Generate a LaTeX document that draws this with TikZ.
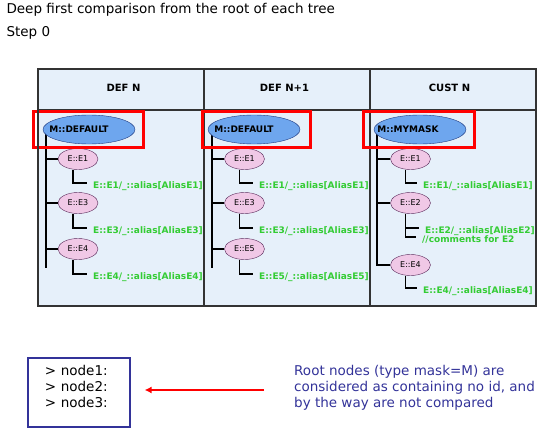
\documentclass[tikz,border=0pt]{standalone}
\usepackage{fontspec}
\setmainfont{DejaVu Sans}
\usetikzlibrary{shapes.geometric,arrows.meta}

\definecolor{panelfill}{HTML}{E6F0FA}
\definecolor{rootfill}{HTML}{6EA6EE}
\definecolor{rootborder}{HTML}{1F3A80}
\definecolor{leaffill}{HTML}{F0C8E6}
\definecolor{leafborder}{HTML}{5A2A5A}
\definecolor{aliasgreen}{HTML}{33CC33}
\definecolor{navyline}{HTML}{333399}
\definecolor{framegray}{HTML}{333333}

\begin{document}
\begin{tikzpicture}[x=1pt,y=-1pt,
    header/.style={anchor=base,font=\bfseries\fontsize{10}{12}\selectfont},
    rootnode/.style={ellipse,draw=rootborder,fill=rootfill,minimum width=92pt,minimum height=29pt,inner sep=0pt},
    leafnode/.style={ellipse,draw=leafborder,fill=leaffill,minimum width=40pt,minimum height=21pt,inner sep=0pt,font=\fontsize{8}{9}\selectfont},
    alias/.style={anchor=base west,inner xsep=6pt,inner ysep=0pt,text height=10pt,text depth=0pt,text=aliasgreen,font=\bfseries\fontsize{9}{9}\selectfont},
    redbox/.style={draw=red,line width=3pt},
    branch/.style={line width=1.5pt,black}]

  \useasboundingbox (0,0) rectangle (558,431);

  \node[anchor=base west,font=\fontsize{13.5}{16}\selectfont] (title) at (3,13.5) {Deep first comparison from the root of each tree};
  \node[anchor=base west,font=\fontsize{13.5}{16}\selectfont] (step) at (3,37) {Step 0};

  % panel
  \fill[panelfill] (38,69) rectangle (536,306);
  \draw[framegray,line width=1.5pt] (38,110) -- (536,110);
  \draw[framegray,line width=1.5pt] (204,69) -- (204,306);
  \draw[framegray,line width=1.5pt] (370,69) -- (370,306);

  % DEF N
  \begin{scope}[xshift=38pt]
    \node[header] (h1) at (85.5,92) {DEF N};
    \coordinate (k1) at (8,134);
    \coordinate (k1end) at (8,268);
    \draw[branch] (k1) -- (k1end);
    \node[rootnode,label={[xshift=-10pt,font=\bfseries\fontsize{9}{9}\selectfont]center:M::DEFAULT}] (r1) at (51,129.5) {};
    \node[leafnode] (a1) at (40,159) {E::E1};
    \node[leafnode] (b1) at (40,203) {E::E3};
    \node[leafnode] (c1) at (40,249) {E::E4};
    \node[alias] (ta1) at (49,188) {E::E1/\_::alias[AliasE1]};
    \node[alias] (tb1) at (49,233) {E::E3/\_::alias[AliasE3]};
    \node[alias] (tc1) at (49,279) {E::E4/\_::alias[AliasE4]};
    \draw[branch] (a1.west) -- (a1.west -| k1);
    \draw[branch] (b1.west) -- (b1.west -| k1);
    \draw[branch] (c1.west) -- (c1.west -| k1);
    \draw[branch] ([xshift=-5pt]a1.south) |- (ta1.west);
    \draw[branch] ([xshift=-5pt]b1.south) |- (tb1.west);
    \draw[branch] ([xshift=-5pt]c1.south) |- (tc1.west);
    \draw[redbox] (-5,111) rectangle (105,147);
  \end{scope}

  % DEF N+1
  \begin{scope}[xshift=204pt]
    \node[header] (h2) at (80.5,92) {DEF N+1};
    \coordinate (k2) at (8,134);
    \coordinate (k2end) at (8,268);
    \draw[branch] (k2) -- (k2end);
    \node[rootnode,label={[xshift=-10pt,font=\bfseries\fontsize{9}{9}\selectfont]center:M::DEFAULT}] (r2) at (50,129.5) {};
    \node[leafnode] (a2) at (40.5,159) {E::E1};
    \node[leafnode] (b2) at (40.5,203) {E::E3};
    \node[leafnode] (c2) at (40.5,249) {E::E5};
    \node[alias] (ta2) at (49,188) {E::E1/\_::alias[AliasE1]};
    \node[alias] (tb2) at (49,233) {E::E3/\_::alias[AliasE3]};
    \node[alias] (tc2) at (49,279) {E::E5/\_::alias[AliasE5]};
    \draw[branch] (a2.west) -- (a2.west -| k2);
    \draw[branch] (b2.west) -- (b2.west -| k2);
    \draw[branch] (c2.west) -- (c2.west -| k2);
    \draw[branch] ([xshift=-5pt]a2.south) |- (ta2.west);
    \draw[branch] ([xshift=-5pt]b2.south) |- (tb2.west);
    \draw[branch] ([xshift=-5pt]c2.south) |- (tc2.west);
    \draw[redbox] (-2,111) rectangle (106,147);
  \end{scope}

  % CUST N
  \begin{scope}[xshift=370pt]
    \node[header] (h3) at (79.5,92) {CUST N};
    \coordinate (k3) at (7,134);
    \coordinate (k3end) at (7,266);
    \draw[branch] (k3) -- (k3end);
    \node[rootnode,label={[xshift=-12pt,font=\bfseries\fontsize{9}{9}\selectfont]center:M::MYMASK}] (r3) at (50,129.5) {};
    \node[leafnode] (a3) at (40.5,159) {E::E1};
    \node[leafnode] (b3) at (40.5,203) {E::E2};
    \node[leafnode] (c3) at (40.5,265) {E::E4};
    \node[alias] (ta3) at (47,188) {E::E1/\_::alias[AliasE1]};
    \node[alias] (tb3) at (49,233) {E::E2/\_::alias[AliasE2]};
    \node[alias] (tb3c) at (46,242) {//comments for E2};
    \node[alias] (tc3) at (47,293) {E::E4/\_::alias[AliasE4]};
    \draw[branch] (a3.west) -- (a3.west -| k3);
    \draw[branch] (b3.west) -- (b3.west -| k3);
    \draw[branch] (c3.west) -- (c3.west -| k3);
    \draw[branch] ([xshift=-5pt]a3.south) |- (ta3.west);
    \draw[branch] ([xshift=-5pt]b3.south) |- (tb3c.west);
    \draw[branch] ([xshift=-5pt]b3.south |- tb3.west) -- (tb3.west);
    \draw[branch] ([xshift=-5pt]c3.south) |- (tc3.west);
    \draw[redbox] (-7,111) rectangle (104,147);
  \end{scope}

  \draw[framegray,line width=2pt] (38,69) rectangle (536,306);

  % list and note
  \node[draw=navyline,line width=1.2pt,minimum width=102pt,minimum height=69pt,text width=68pt,align=left,
        text height=10pt,text depth=45pt,font=\fontsize{13.5}{16}\selectfont] (list) at (79,392.5) {> node1:\\> node2:\\> node3:};
  \node[anchor=north west,inner sep=0pt,align=left,text=navyline,font=\fontsize{13.5}{16}\selectfont] (note) at (294,365)
    {Root nodes (type mask=M) are\\considered as containing no id, and\\by the way are not compared};
  \coordinate (tail) at (264,390);
  \draw[red,line width=2pt,-{Latex[length=7pt,width=7pt]},shorten >=14pt] (tail) -- (list.east |- tail);

\end{tikzpicture}
\end{document}
